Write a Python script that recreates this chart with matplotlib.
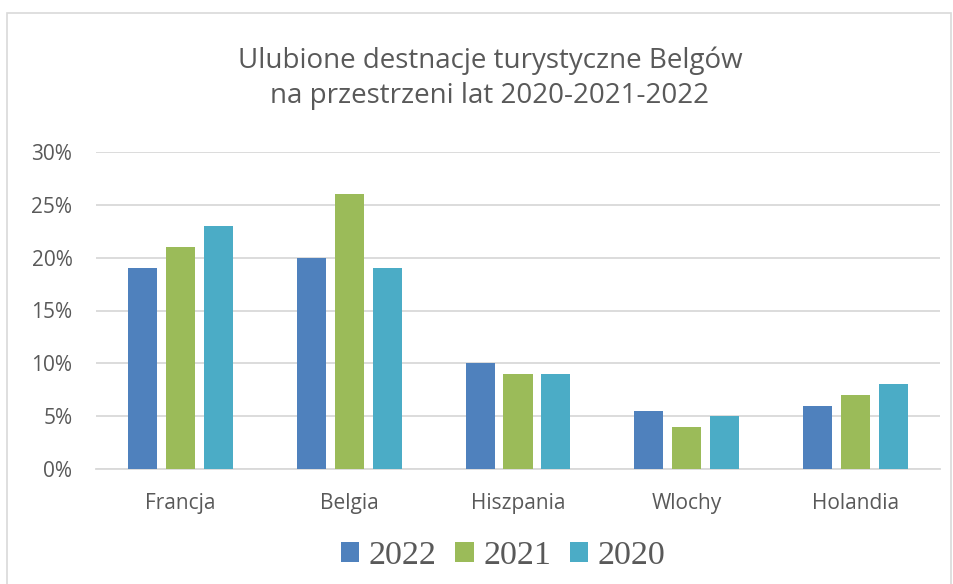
import matplotlib
matplotlib.use("Agg")
import matplotlib.pyplot as plt
import numpy as np
from matplotlib.patches import Rectangle
from matplotlib.ticker import FuncFormatter

categories = ["Francja", "Belgia", "Hiszpania", "Wlochy", "Holandia"]
series_names = ["2022", "2021", "2020"]
v2022 = [0.19, 0.20, 0.10, 0.055, 0.06]
v2021 = [0.21, 0.26, 0.09, 0.04, 0.07]
v2020 = [0.23, 0.19, 0.09, 0.05, 0.08]
colors = ["#4f81bd", "#9bbb59", "#4bacc6"]

W, H = 954, 584
fig = plt.figure(figsize=(W / 100, H / 100), dpi=100)
fig.patch.set_facecolor("white")

# outer chart border
fig.patches.append(Rectangle((7 / W, -0.05), (951 - 7) / W, 1.05 - 13 / H,
                             transform=fig.transFigure, fill=False,
                             edgecolor="#d9d9d9", linewidth=1.2))

ax = fig.add_axes([96 / W, 1 - 469 / H, (940 - 96) / W, (469 - 152) / H])
x = np.arange(len(categories))
bw = 0.172
step = 0.225
for i, (vals, name) in enumerate(zip([v2022, v2021, v2020], series_names)):
    ax.bar(x + (i - 1) * step, vals, width=bw, color=colors[i], label=name, zorder=3)

ax.set_xlim(-0.5, len(categories) - 0.5)
ax.set_ylim(0, 0.30)
ax.set_yticks(np.arange(0, 0.301, 0.05))
ax.yaxis.set_major_formatter(FuncFormatter(lambda v, p: f"{v*100:.0f}%"))
ax.grid(axis="y", color="#d9d9d9", linewidth=1.3, zorder=0)
ax.set_xticks(x)
ax.set_xticklabels(categories)
for s in ["top", "right", "left"]:
    ax.spines[s].set_visible(False)
ax.spines["bottom"].set_color("#d9d9d9")
ax.spines["bottom"].set_linewidth(1.3)
ax.tick_params(axis="both", length=0, colors="#595959", labelsize=15)
ax.tick_params(axis="x", pad=17)
ax.tick_params(axis="y", pad=17)
for lbl in ax.get_xticklabels() + ax.get_yticklabels():
    lbl.set_fontfamily("Open Sans")

fig.text(490 / W, 1 - 78 / H, "Ulubione destnacje turystyczne Belgów\nna przestrzeni lat 2020-2021-2022",
         ha="center", va="center", fontsize=20, color="#595959",
         family="Open Sans", linespacing=1.35)

leg = fig.legend(loc="center", bbox_to_anchor=(503 / W, 1 - 556 / H), ncol=3,
                 frameon=False, prop={"family": "Liberation Serif", "size": 24.5},
                 handlelength=0.55, handleheight=0.55, handletextpad=0.27,
                 columnspacing=0.55)
for t in leg.get_texts():
    t.set_color("#595959")

fig.savefig("out.png", dpi=100)
